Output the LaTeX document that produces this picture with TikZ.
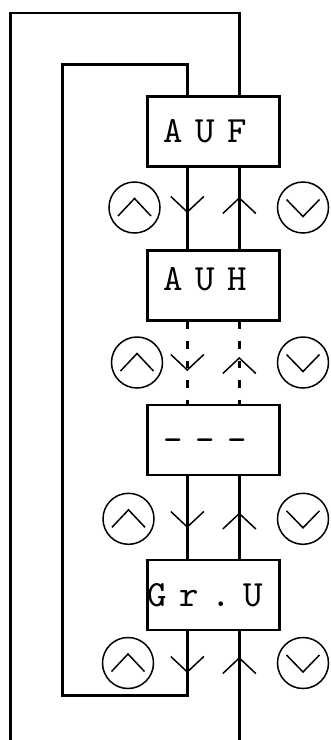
\documentclass[tikz,border=0pt]{standalone}
\usepackage{fontspec}
\newfontfamily\dispfamily{lmmono10-regular.otf}[LetterSpace=34]
\newcommand\dispfont{\dispfamily\fontsize{37}{37}\selectfont}
\begin{document}
\begin{tikzpicture}[x=1pt,y=-1pt,
  box/.style={draw, line width=2.7pt, minimum width=132pt, minimum height=70pt, inner sep=0pt,
    font=\dispfont, text height=22pt, text depth=0pt},
  wire/.style={line width=2.7pt},
  dwire/.style={line width=2.7pt, dash pattern=on 7.5pt off 12pt},
  key/.style={draw, circle, line width=1.5pt, minimum size=51pt, inner sep=0pt},
  chev/.style={line width=1.5pt},
]
\useasboundingbox (0,0) rectangle (330,740);
% boxes
\node[box] (auf) at (213.3,131.5) {AUF\kern16pt};
\node[box, text depth=13pt] (auh) at (213.3,285.5) {AUH\kern16pt};
\node[box] (dsh) at (213.3,440) {-{}-{}-\kern16pt};
\node[box] (gru) at (213.3,595) {Gr.U\kern16pt};
% loop coordinates
\coordinate (otl) at (10.5,13);
\coordinate (otr) at (239.3,13);
\coordinate (obl) at (10.5,740);
\coordinate (obr) at (239.3,740);
\coordinate (itl) at (62.5,64.7);
\coordinate (itr) at (187.3,64.7);
\coordinate (ibl) at (62.5,695.3);
\coordinate (ibr) at (187.3,695.3);
% outer loop
\draw[wire] (obl) -- (otl) -- (otr) -- (otr |- auf.north);
\draw[wire] (obr |- gru.south) -- (obr);
% inner loop
\draw[wire] (itr |- gru.south) -- (ibr) -- (ibl) -- (itl) -- (itr) -- (itr |- auf.north);
% connections between boxes
\draw[wire] (itr |- auf.south) -- (itr |- auh.north);
\draw[wire] (otr |- auf.south) -- (otr |- auh.north);
\draw[dwire] (itr |- auh.south) -- (itr |- dsh.north);
\draw[dwire] (otr |- auh.south) -- (otr |- dsh.north);
\draw[wire] (itr |- dsh.south) -- (itr |- gru.north);
\draw[wire] (otr |- dsh.south) -- (otr |- gru.north);
% keys
\foreach \n/\lx/\rx/\y/\dv/\uv in {1/134.5/303/207.5/212/198, 2/137/303/362.5/370/358, 3/128.5/303/518.8/527/513.5, 4/128/303/663/672/658}{
  \node[key] (up\n) at (\lx,\y) {};
  \node[key] (dn\n) at (\rx,\y) {};
  \draw[chev] ([shift={(-16.5,8.5)}]up\n.center) -- ([shift={(0,-9)}]up\n.center) -- ([shift={(16.5,8.5)}]up\n.center);
  \draw[chev] ([shift={(-16.5,-8)}]dn\n.center) -- ([shift={(0,9)}]dn\n.center) -- ([shift={(16.5,-8)}]dn\n.center);
  \coordinate (dva\n) at (187.3,\dv);
  \coordinate (uva\n) at (239.3,\uv);
  \draw[chev] ([shift={(-16.5,-15.5)}]dva\n) -- (dva\n) -- ([shift={(16.5,-15.5)}]dva\n);
  \draw[chev] ([shift={(-16.5,15.5)}]uva\n) -- (uva\n) -- ([shift={(16.5,15.5)}]uva\n);
}
\end{tikzpicture}
\end{document}
